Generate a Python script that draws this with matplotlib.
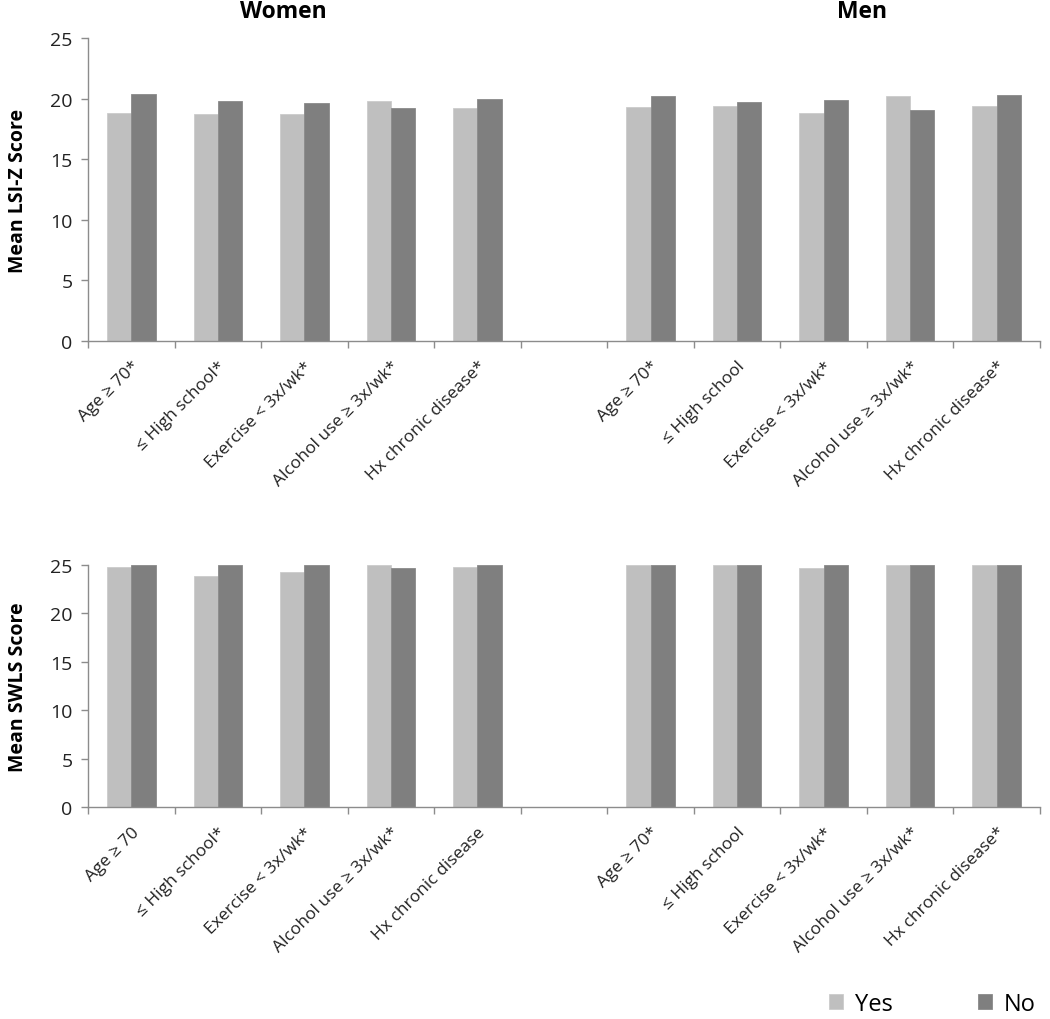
import numpy as np
import matplotlib.pyplot as plt

plt.rcParams['font.family'] = ['Open Sans', 'DejaVu Sans']

# categories per panel (women / men); '*' marks as printed in the figure
lsi_women_labels = ['Age ≥ 70*', '≤ High school*', 'Exercise < 3x/wk*', 'Alcohol use ≥ 3x/wk*', 'Hx chronic disease*']
lsi_men_labels = ['Age ≥ 70*', '≤ High school', 'Exercise < 3x/wk*', 'Alcohol use ≥ 3x/wk*', 'Hx chronic disease*']
swls_women_labels = ['Age ≥ 70', '≤ High school*', 'Exercise < 3x/wk*', 'Alcohol use ≥ 3x/wk*', 'Hx chronic disease']
swls_men_labels = ['Age ≥ 70*', '≤ High school', 'Exercise < 3x/wk*', 'Alcohol use ≥ 3x/wk*', 'Hx chronic disease*']

# Mean LSI-Z score
lsi_women_yes = [18.8, 18.7, 18.7, 19.8, 19.2]
lsi_women_no = [20.4, 19.8, 19.65, 19.2, 20.0]
lsi_men_yes = [19.3, 19.4, 18.8, 20.2, 19.4]
lsi_men_no = [20.2, 19.75, 19.85, 19.1, 20.3]

# Mean SWLS score
swls_women_yes = [24.75, 23.85, 24.3, 25.0, 24.75]
swls_women_no = [25.0, 25.0, 25.0, 24.65, 25.0]
swls_men_yes = [25.0, 25.0, 24.65, 25.0, 25.0]
swls_men_no = [25.0, 25.0, 25.0, 25.0, 25.0]

light = '#bfbfbf'
dark = '#7f7f7f'
axis_grey = '#8c8c8c'

W, H = 1050, 1020
fig = plt.figure(figsize=(W / 100, H / 100), dpi=100)
ax1 = fig.add_axes([88 / W, 1 - 342 / H, 952 / W, 303 / H])
ax2 = fig.add_axes([88 / W, 1 - 808 / H, 952 / W, 242 / H])

# slots 0-4 women, 5 empty, 6-10 men
pos = np.array([0, 1, 2, 3, 4, 6, 7, 8, 9, 10]) + 0.5
bw = 0.28


def panel(ax, yes, no, labels, ylabel):
    ax.bar(pos - bw / 2, yes, bw, color=light, edgecolor='#cccccc', linewidth=0.6, label='Yes')
    ax.bar(pos + bw / 2, no, bw, color=dark, edgecolor='#8a8a8a', linewidth=0.6, label='No')
    ax.set_xlim(0, 11)
    ax.set_ylim(0, 25)
    ax.set_yticks([0, 5, 10, 15, 20, 25])
    ax.set_xticks(np.arange(0, 12))
    ax.set_xticklabels([])
    ax.set_xticks(pos, minor=True)
    ax.set_xticklabels(labels, minor=True, rotation=45, ha='right',
                       rotation_mode='anchor', fontsize=12.5, color='#222222')
    ax.tick_params(axis='x', which='minor', length=0, pad=12)
    ax.tick_params(axis='x', which='major', length=5, color=axis_grey, width=1)
    ax.tick_params(axis='y', length=5, color=axis_grey, width=1,
                   labelsize=14, labelcolor='#222222', pad=6)
    for s in ['top', 'right']:
        ax.spines[s].set_visible(False)
    for s in ['left', 'bottom']:
        ax.spines[s].set_color(axis_grey)
        ax.spines[s].set_linewidth(1)
    ax.set_ylabel(ylabel, fontsize=14, fontweight='bold', labelpad=16)


panel(ax1, lsi_women_yes + lsi_men_yes, lsi_women_no + lsi_men_no,
      lsi_women_labels + lsi_men_labels, 'Mean LSI-Z Score')
panel(ax2, swls_women_yes + swls_men_yes, swls_women_no + swls_men_no,
      swls_women_labels + swls_men_labels, 'Mean SWLS Score')

fig.text(283 / W, 1 - 12 / H, 'Women', fontsize=16.5, fontweight='bold', ha='center', va='center')
fig.text(862 / W, 1 - 12 / H, 'Men', fontsize=16.5, fontweight='bold', ha='center', va='center')

handles, labs = ax1.get_legend_handles_labels()
fig.legend(handles, labs, loc='lower left', bbox_to_anchor=(808 / W, -18 / H), ncol=2,
           frameon=False, fontsize=17, handlelength=0.6, handleheight=0.6,
           handletextpad=0.5, columnspacing=3.6)

fig.savefig('out.png', dpi=100)
